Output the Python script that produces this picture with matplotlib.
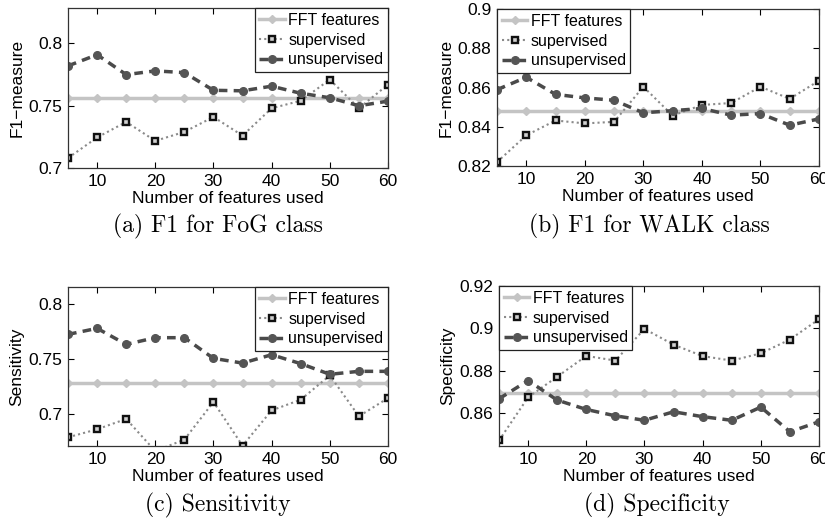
import matplotlib
matplotlib.use("Agg")
import matplotlib.pyplot as plt
from matplotlib.ticker import FormatStrFormatter

# number of features on the x axis
n_features = [5, 10, 15, 20, 25, 30, 35, 40, 45, 50, 55, 60]

# (a) F1 for FoG class
f1_fog_fft = 0.756
f1_fog_sup = [0.708, 0.7245, 0.737, 0.7218, 0.729, 0.741, 0.726, 0.748, 0.754, 0.771, 0.748, 0.767]
f1_fog_unsup = [0.782, 0.791, 0.775, 0.778, 0.7766, 0.7624, 0.762, 0.7657, 0.760, 0.7564, 0.750, 0.7537]

# (b) F1 for WALK class
f1_walk_fft = 0.848
f1_walk_sup = [0.822, 0.8356, 0.8432, 0.8417, 0.8425, 0.8604, 0.8457, 0.8511, 0.8521, 0.8604, 0.8542, 0.8635]
f1_walk_unsup = [0.8589, 0.8652, 0.8565, 0.8547, 0.8535, 0.8471, 0.8482, 0.8493, 0.8459, 0.8467, 0.8408, 0.844]

# (c) Sensitivity
sens_fft = 0.728
sens_sup = [0.6785, 0.6858, 0.6952, 0.666, 0.6764, 0.7106, 0.6709, 0.703, 0.7127, 0.7348, 0.6976, 0.7142]
sens_unsup = [0.7721, 0.7776, 0.763, 0.7691, 0.7691, 0.7503, 0.746, 0.7536, 0.7455, 0.7358, 0.7385, 0.7385]

# (d) Specificity
spec_fft = 0.8697
spec_sup = [0.8473, 0.8676, 0.8773, 0.8871, 0.8849, 0.8998, 0.8924, 0.887, 0.8849, 0.8883, 0.8948, 0.9044]
spec_unsup = [0.8669, 0.8755, 0.8663, 0.8619, 0.8589, 0.8568, 0.8608, 0.8585, 0.8568, 0.863, 0.8514, 0.8561]

plt.rcParams['font.family'] = ['Liberation Sans', 'DejaVu Sans']
plt.rcParams['font.size'] = 12.5

W, H = 825, 523
fig = plt.figure(figsize=(W / 100, H / 100), dpi=100)


def px_axes(x0, y0, x1, y1):
    # axes box given in pixel coordinates (top-left origin)
    return fig.add_axes([x0 / W, (H - y1) / H, (x1 - x0) / W, (y1 - y0) / H])


def draw_panel(ax, fft, sup, unsup, ylim, yticks, ylabel, legend_loc, caption, cap_xy):
    ax.plot(n_features, [fft] * len(n_features), color='#c4c4c4', lw=2.5,
            marker='D', ms=4.5, mfc='#c4c4c4', mec='#c4c4c4', label='FFT features')
    ax.plot(n_features, sup, color='#8a8a8a', lw=1.5, ls=(0, (1, 1.5)),
            marker='s', ms=4.5, mfc='#d0d0d0', mec='#111111', mew=1.7, label='supervised')
    ax.plot(n_features, unsup, color='#4a4a4a', lw=2.5, ls=(0, (2.5, 1.8)),
            marker='o', ms=5.5, mfc='#555555', mec='#555555', label='unsupervised')
    ax.set_xlim(5, 60)
    ax.set_ylim(*ylim)
    ax.set_xticks([10, 20, 30, 40, 50, 60])
    ax.set_yticks(yticks)
    ax.yaxis.set_major_formatter(FormatStrFormatter('%g'))
    ax.tick_params(direction='in', top=True, right=True, length=4, width=0.8,
                   labelsize=12.5, pad=4)
    for s in ax.spines.values():
        s.set_linewidth(0.9)
        s.set_color('#333333')
    ax.set_xlabel('Number of features used', labelpad=2)
    ax.set_ylabel(ylabel, labelpad=3)
    leg = ax.legend(loc=legend_loc, borderaxespad=0, fancybox=False, framealpha=1,
                    edgecolor='#222222', handlelength=1.6, handletextpad=0.2,
                    borderpad=0.3, labelspacing=0.3, fontsize=11.5)
    leg.get_frame().set_linewidth(0.9)
    fig.text(cap_xy[0] / W, 1 - cap_xy[1] / H, caption, ha='center', va='center',
             fontsize=17, family='cmr10')


ax_a = px_axes(68, 8, 388, 168)
draw_panel(ax_a, f1_fog_fft, f1_fog_sup, f1_fog_unsup, (0.7, 0.8285),
           [0.7, 0.75, 0.8], 'F1\u2212measure', 'upper right',
           '(a) F1 for FoG class', (218, 226))

ax_b = px_axes(497, 9, 819, 166)
draw_panel(ax_b, f1_walk_fft, f1_walk_sup, f1_walk_unsup, (0.82, 0.9),
           [0.82, 0.84, 0.86, 0.88, 0.9], 'F1\u2212measure', 'upper left',
           '(b) F1 for WALK class', (649, 226))

ax_c = px_axes(68, 287, 388, 446)
draw_panel(ax_c, sens_fft, sens_sup, sens_unsup, (0.6706, 0.8152),
           [0.7, 0.75, 0.8], 'Sensitivity', 'upper right',
           '(c) Sensitivity', (218, 505))

ax_d = px_axes(499, 286, 819, 446)
draw_panel(ax_d, spec_fft, spec_sup, spec_unsup, (0.8447, 0.92),
           [0.86, 0.88, 0.9, 0.92], 'Specificity', 'upper left',
           '(d) Specificity', (657, 505))

fig.savefig('out.png', dpi=100)
